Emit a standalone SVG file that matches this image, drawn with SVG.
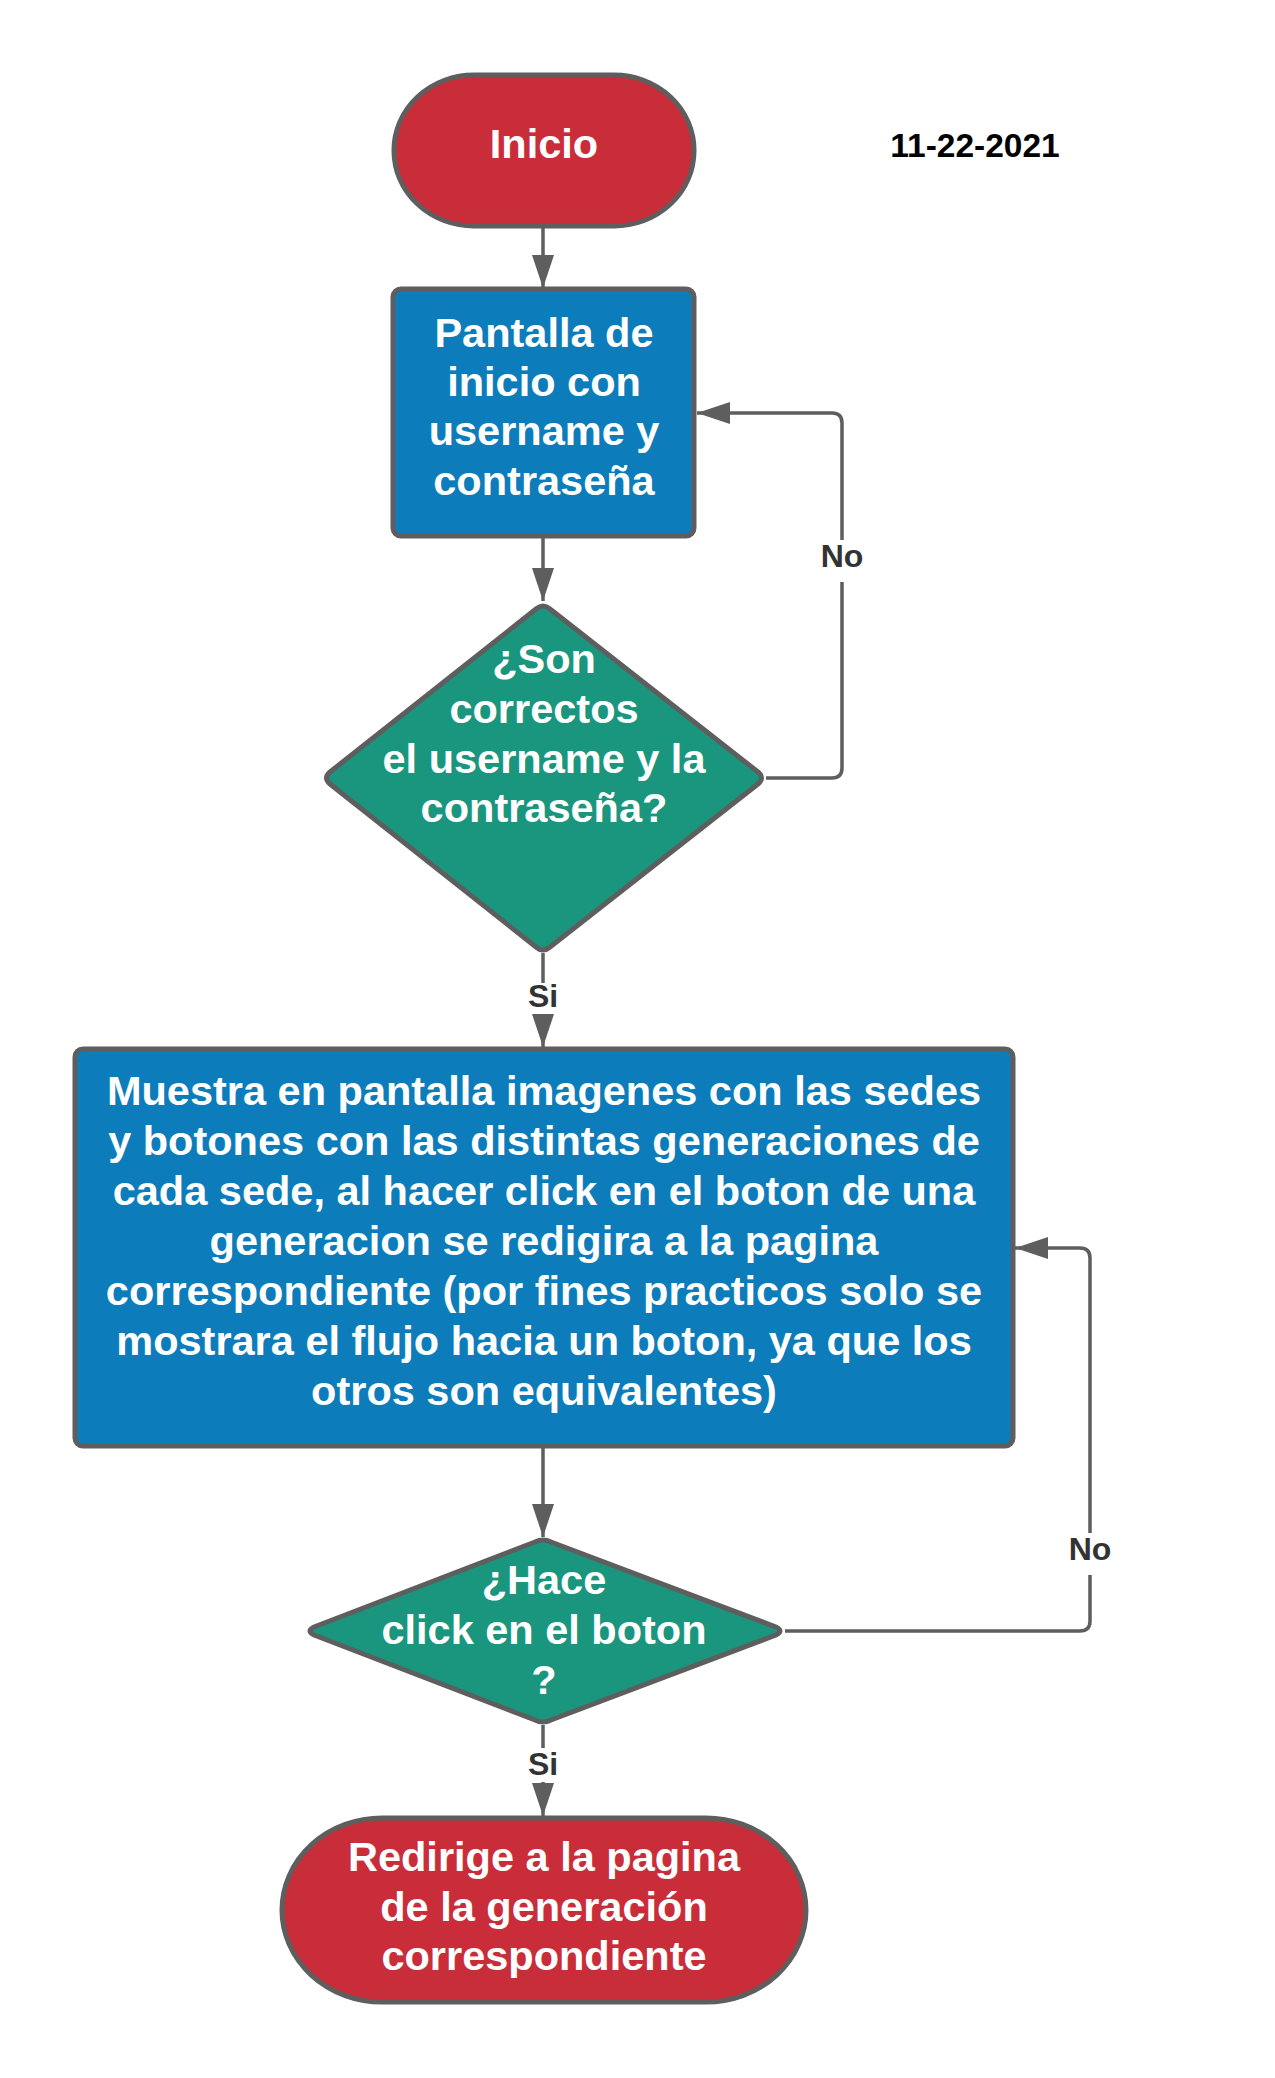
<svg xmlns="http://www.w3.org/2000/svg" width="1275" height="2078" viewBox="0 0 1275 2078">
<style>
.shape{stroke:#5e5e5e;stroke-width:5;stroke-linejoin:round}
.red{fill:#c92d39}.blue{fill:#0c7cba}.green{fill:#19967d}
.t{font-family:"Liberation Sans",Arial,sans-serif;font-weight:bold;font-size:41.5px;fill:#fff;text-anchor:middle}
.lbl{font-family:"Liberation Sans",Arial,sans-serif;font-weight:bold;font-size:32px;fill:#333;text-anchor:middle}
.conn{fill:none;stroke:#5e5e5e;stroke-width:3.5}
</style>
<defs>
<marker id="arr" markerUnits="userSpaceOnUse" markerWidth="34" markerHeight="24" refX="33" refY="11" orient="auto">
<path d="M0,0 L33,11 L0,22 z" fill="#5e5e5e"/>
</marker>
</defs>
<rect width="1275" height="2078" fill="#fff"/>
<g id="connectors">
<path class="conn" d="M543 227 V288" marker-end="url(#arr)"/>
<path class="conn" d="M543 537 V601" marker-end="url(#arr)"/>
<path class="conn" d="M543 953 V983"/>
<path class="conn" d="M543 1014 V1047" marker-end="url(#arr)"/>
<path class="conn" d="M543 1447 V1537" marker-end="url(#arr)"/>
<path class="conn" d="M543 1725 V1748"/>
<path class="conn" d="M543 1782 V1816" marker-end="url(#arr)"/>
<path class="conn" d="M766 778 H832 Q842 778 842 768 V582"/>
<path class="conn" d="M842 540 V423 Q842 413 832 413 H697" marker-end="url(#arr)"/>
<path class="conn" d="M785 1631 H1080 Q1090 1631 1090 1621 V1575"/>
<path class="conn" d="M1090 1533 V1258 Q1090 1248 1080 1248 H1015" marker-end="url(#arr)"/>
<text class="lbl" x="842" y="567">No</text>
<text class="lbl" x="543" y="1007">Si</text>
<text class="lbl" x="1090" y="1560">No</text>
<text class="lbl" x="543" y="1775">Si</text>
</g>
<g id="inicio">
<rect class="shape red" x="394" y="75" width="300" height="151" rx="80" ry="75"/>
<text class="t" x="544" y="158">Inicio</text>
</g>
<g id="fecha">
<text x="975" y="157" font-family="'Liberation Sans',Arial,sans-serif" font-weight="bold" font-size="33.5" fill="#000" text-anchor="middle">11-22-2021</text>
</g>
<g id="pantalla">
<rect class="shape blue" x="393" y="289" width="301" height="247" rx="8"/>
<text class="t" x="544" y="347">Pantalla de</text>
<text class="t" x="544" y="396">inicio con</text>
<text class="t" x="544" y="445">username y</text>
<text class="t" x="544" y="495">contraseña</text>
</g>
<g id="decision1">
<path class="shape green" d="M536 609 Q543 603 550 609 L758 772 Q765 778 758 784 L550 947 Q543 953 536 947 L330 784 Q323 778 330 772 Z"/>
<text class="t" x="544" y="673">¿Son</text>
<text class="t" x="544" y="723">correctos</text>
<text class="t" x="544" y="773">el username y la</text>
<text class="t" x="544" y="822">contraseña?</text>
</g>
<g id="muestra">
<rect class="shape blue" x="75" y="1049" width="938" height="397" rx="8"/>
<text class="t" x="544" y="1105">Muestra en pantalla imagenes con las sedes</text>
<text class="t" x="544" y="1155">y botones con las distintas generaciones de</text>
<text class="t" x="544" y="1205">cada sede, al hacer click en el boton de una</text>
<text class="t" x="544" y="1255">generacion se redigira a la pagina</text>
<text class="t" x="544" y="1305">correspondiente (por fines practicos solo se</text>
<text class="t" x="544" y="1355">mostrara el flujo hacia un boton, ya que los</text>
<text class="t" x="544" y="1405">otros son equivalentes)</text>
</g>
<g id="decision2">
<path class="shape green" d="M535 1542 Q543 1538 551 1542 L776 1627 Q784 1631 776 1635 L551 1720 Q543 1724 535 1720 L314 1635 Q306 1631 314 1627 Z"/>
<text class="t" x="544" y="1594">¿Hace</text>
<text class="t" x="544" y="1644">click en el boton</text>
<text class="t" x="544" y="1694">?</text>
</g>
<g id="redirige">
<rect class="shape red" x="282" y="1818" width="524" height="184" rx="100" ry="92"/>
<text class="t" x="544" y="1871">Redirige a la pagina</text>
<text class="t" x="544" y="1921">de la generación</text>
<text class="t" x="544" y="1970">correspondiente</text>
</g>
</svg>
